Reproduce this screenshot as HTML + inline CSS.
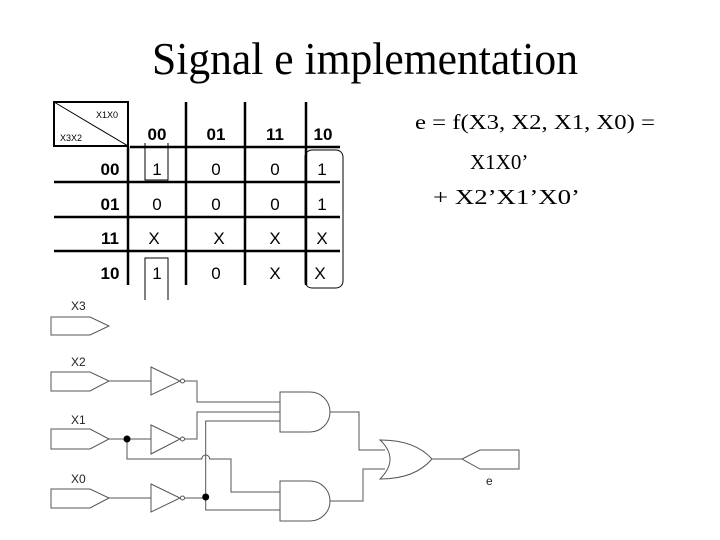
<!DOCTYPE html>
<html><head><meta charset="utf-8"><style>
html,body{margin:0;padding:0;background:#fff;width:720px;height:540px;overflow:hidden}
svg{display:block}
.s{font-family:"Liberation Serif",serif}
.a{font-family:"Liberation Sans",sans-serif}
</style></head><body>
<svg width="720" height="540" viewBox="0 0 720 540">
<text x="365" y="74" class="s" font-size="45" text-anchor="middle" textLength="426" lengthAdjust="spacingAndGlyphs">Signal e implementation</text>
<text x="415" y="129" class="s" font-size="21" textLength="240" lengthAdjust="spacingAndGlyphs">e =  f(X3, X2, X1, X0) =</text>
<text x="470" y="169" class="s" font-size="21">X1X0’</text>
<text x="433" y="204" class="s" font-size="21" textLength="147" lengthAdjust="spacingAndGlyphs">+ X2’X1’X0’</text>

<!-- K-map -->
<g stroke="#000" fill="none">
<rect x="54" y="102" width="74" height="44" stroke-width="2"/>
<line x1="54" y1="102" x2="128" y2="146" stroke-width="1"/>
<g stroke-width="2.5">
<line x1="128" y1="146" x2="128" y2="285"/>
<line x1="186" y1="102" x2="186" y2="285"/>
<line x1="245" y1="102" x2="245" y2="285"/>
<line x1="306" y1="102" x2="306" y2="285"/>
<line x1="130" y1="147" x2="340" y2="147"/>
<line x1="54" y1="182" x2="340" y2="182"/>
<line x1="54" y1="217" x2="340" y2="217"/>
<line x1="54" y1="251" x2="340" y2="251"/>
</g>
<rect x="305" y="150" width="38" height="138" rx="7" stroke-width="1"/>
<path d="M145 143 V180 H168 V143" stroke-width="1"/>
<path d="M145 300 V258 H168 V300" stroke-width="1"/>
</g>
<g class="a" font-size="9" fill="#000">
<text x="96" y="118">X1X0</text>
<text x="60" y="141">X3X2</text>
</g>
<g class="a" font-size="17" font-weight="bold" text-anchor="middle">
<text x="157" y="140">00</text><text x="216" y="140">01</text><text x="275" y="140">11</text><text x="323" y="140">10</text>
<text x="110" y="175">00</text><text x="110" y="210">01</text><text x="110" y="244">11</text><text x="110" y="279">10</text>
</g>
<g class="a" font-size="17" text-anchor="middle">
<text x="157" y="175">1</text><text x="216" y="175">0</text><text x="275" y="175">0</text><text x="322" y="175">1</text>
<text x="157" y="210">0</text><text x="216" y="210">0</text><text x="275" y="210">0</text><text x="322" y="210">1</text>
<text x="154" y="244">X</text><text x="219" y="244">X</text><text x="275" y="244">X</text><text x="322" y="244">X</text>
<text x="157" y="279">1</text><text x="216" y="279">0</text><text x="275" y="279">X</text><text x="320" y="279">X</text>
</g>

<!-- circuit -->
<g stroke="#555" stroke-width="1" fill="none">
<path d="M51 317 H90 L109 326 L90 335 H51 Z"/>
<path d="M51 372 H90 L109 381 L90 391 H51 Z"/>
<path d="M51 429 H90 L109 439 L90 449 H51 Z"/>
<path d="M51 489 H90 L109 498 L90 508 H51 Z"/>
<path d="M519 450 H480 L462 459 L480 469 H519 Z"/>
<path d="M151 367 L180 381 L151 395 Z"/><circle cx="182.5" cy="381" r="2"/>
<path d="M151 425 L180 439 L151 454 Z"/><circle cx="182.5" cy="439" r="2"/>
<path d="M151 484 L180 498 L151 512 Z"/><circle cx="182.5" cy="498" r="2"/>
<path d="M280 392 H310 A20 20 0 0 1 310 432 H280 Z"/>
<path d="M280 481 H310 A20 20 0 0 1 310 521 H280 Z"/>
<path d="M380 440 Q400 459 380 479 Q415 479 432 459 Q415 440 380 440 Z"/>
<path d="M109 381 H151 M184.5 381 H197 V402 H280"/>
<path d="M109 439 H151 M184.5 439 H197 V412 H280"/>
<path d="M205.7 498 V421 H280"/>
<path d="M127 439 V459 H201.7 A4 4 0 0 1 209.7 459 H231 V492 H280"/>
<path d="M109 498 H151 M184.5 498 H205.7 V510 H280"/>
<path d="M330 412 H359 V450 H385"/>
<path d="M330 501 H363 V469 H385"/>
<path d="M432 459 H462"/>
</g>
<circle cx="127" cy="439" r="3.5" fill="#000"/>
<circle cx="205.7" cy="497" r="3.5" fill="#000"/>
<g class="a" font-size="12" fill="#222">
<text x="71" y="310">X3</text><text x="71" y="366">X2</text><text x="71" y="424">X1</text><text x="71" y="483">X0</text>
<text x="486" y="485">e</text>
</g>
</svg>
</body></html>
